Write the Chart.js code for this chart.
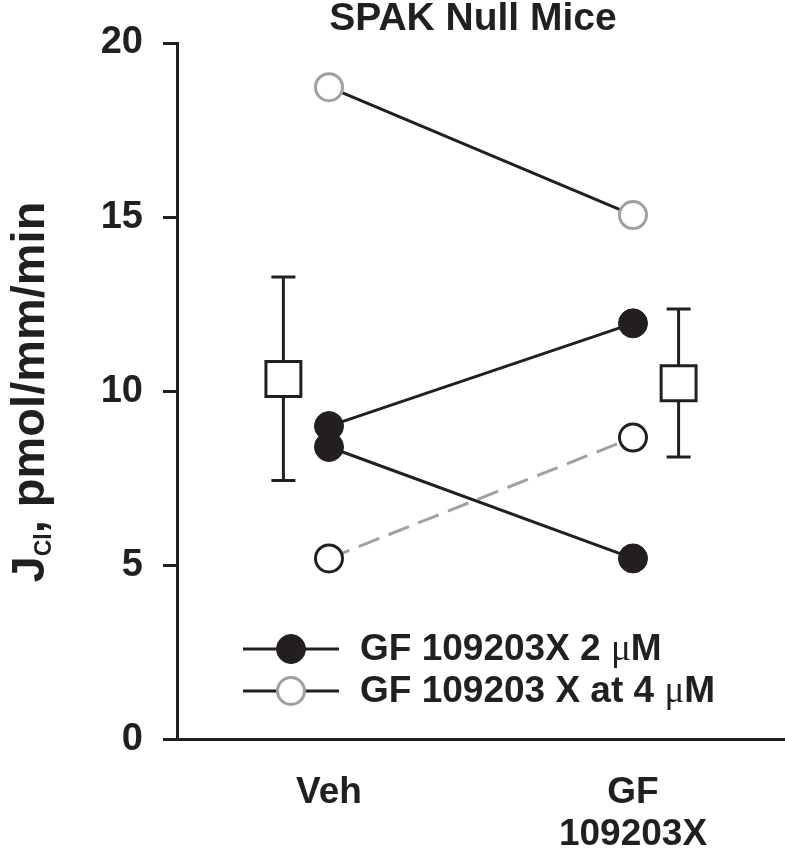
<!DOCTYPE html>
<html>
<head>
<meta charset="utf-8">
<title>SPAK Null Mice</title>
<script src="https://cdn.jsdelivr.net/npm/chart.js@4.4.1/dist/chart.umd.min.js"></script>
<style>
  html, body { margin: 0; padding: 0; background: #fff; }
  #wrap { width: 785px; height: 852px; }
</style>
</head>
<body>
<div id="wrap"><canvas id="chart" width="785" height="852"></canvas></div>
<script>
// data
const groups = ['Veh', 'GF 109203X'];
const xLabels = [['Veh'], ['GF', '109203X']];
const yTicks = [0, 5, 10, 15, 20];

const mouseA = [9.0, 11.95];   // 2 uM, filled
const mouseB = [8.4, 5.2];     // 2 uM, filled
const mouseC = [18.73, 15.06]; // 4 uM, grey open
const mouseD = [5.2, 8.67];    // open, dashed

const meanVals = [10.35, 10.23];
const errHigh = [13.28, 12.36];
const errLow = [7.44, 8.11];

const legendLabels = ['GF 109203X 2 \u03bcM', 'GF 109203 X at 4 \u03bcM'];
const chartTitle = 'SPAK Null Mice';

const ink = '#231f20';
const grey = '#a0a0a0';
const fontFam = '"Liberation Sans", Arial, Helvetica, sans-serif';
const meanOffset = 0.15;

const toPts = (vals, shift = 0) => vals.map((v, i) => ({ x: i + 1 + shift, y: v }));

const filledStyle = {
    showLine: true,
    borderColor: ink,
    borderWidth: 3,
    pointRadius: 14.5,
    pointBorderWidth: 1,
    pointBackgroundColor: ink,
    pointBorderColor: ink
};

const datasets = [
    { label: legendLabels[0], data: toPts(mouseA), ...filledStyle },
    { label: legendLabels[0], data: toPts(mouseB), ...filledStyle },
    {
        label: legendLabels[1], data: toPts(mouseC),
        showLine: true, borderColor: ink, borderWidth: 3,
        pointRadius: 13.5, pointBorderWidth: 3,
        pointBackgroundColor: '#fff', pointBorderColor: grey
    },
    {
        label: 'open', data: toPts(mouseD),
        showLine: true, borderColor: grey, borderWidth: 3, borderDash: [22, 10],
        pointRadius: 13.5, pointBorderWidth: 3,
        pointBackgroundColor: '#fff', pointBorderColor: ink
    },
    {
        label: 'mean',
        data: meanVals.map((v, i) => ({ x: i + 1 + (i === 0 ? -meanOffset : meanOffset), y: v })),
        showLine: false, pointStyle: 'rect',
        pointRadius: 24.7, pointBorderWidth: 3,
        pointBackgroundColor: '#fff', pointBorderColor: ink
    }
];

// error bars for the mean markers
const errorBars = {
    id: 'errorBars',
    beforeDatasetsDraw(chart) {
        const { ctx, scales: { x, y } } = chart;
        const meanPts = chart.data.datasets[4].data;
        ctx.save();
        ctx.strokeStyle = ink;
        ctx.lineWidth = 3;
        meanPts.forEach((p, i) => {
            const px = x.getPixelForValue(p.x);
            const top = y.getPixelForValue(errHigh[i]);
            const bot = y.getPixelForValue(errLow[i]);
            ctx.beginPath();
            ctx.moveTo(px, top); ctx.lineTo(px, bot);
            ctx.moveTo(px - 12, top); ctx.lineTo(px + 12, top);
            ctx.moveTo(px - 12, bot); ctx.lineTo(px + 12, bot);
            ctx.stroke();
        });
        ctx.restore();
    }
};

// draws text, with the mu in a symbol-like serif
function drawMixed(ctx, text, x, y, size) {
    const parts = text.split('\u03bc');
    let cx = x;
    parts.forEach((part, i) => {
        ctx.font = `bold ${size}px ${fontFam}`;
        ctx.fillText(part, cx, y);
        cx += ctx.measureText(part).width;
        if (i < parts.length - 1) {
            ctx.font = `${size}px "Liberation Serif", "Times New Roman", serif`;
            ctx.fillText('\u03bc', cx, y);
            cx += ctx.measureText('\u03bc').width;
        }
    });
}

const decorations = {
    id: 'decorations',
    afterDraw(chart) {
        const { ctx } = chart;
        ctx.save();
        ctx.fillStyle = ink;

        // title
        ctx.font = `bold 39px ${fontFam}`;
        ctx.textAlign = 'center';
        ctx.textBaseline = 'alphabetic';
        ctx.fillText(chartTitle, 473, 30);

        // legend
        const legendSets = [0, 2];
        ctx.textAlign = 'left';
        ctx.textBaseline = 'middle';
        legendSets.forEach((di, row) => {
            const ds = chart.data.datasets[di];
            const ly = 649 + row * 42;
            ctx.strokeStyle = ink;
            ctx.lineWidth = 3;
            ctx.beginPath();
            ctx.moveTo(243, ly); ctx.lineTo(339, ly);
            ctx.stroke();
            ctx.beginPath();
            ctx.arc(291, ly, ds.pointRadius, 0, Math.PI * 2);
            ctx.fillStyle = ds.pointBackgroundColor;
            ctx.fill();
            ctx.lineWidth = ds.pointBorderWidth;
            ctx.strokeStyle = ds.pointBorderColor;
            ctx.stroke();
            ctx.fillStyle = ink;
            drawMixed(ctx, ds.label, 360, ly + 1, 37);
        });

        // y axis title with subscript
        const big = 47, small = 23;
        ctx.textAlign = 'left';
        ctx.textBaseline = 'alphabetic';
        ctx.font = `bold ${big}px ${fontFam}`;
        const wJ = ctx.measureText('J').width;
        const rest = ', pmol/mm/min';
        const wRest = ctx.measureText(rest).width;
        ctx.font = `bold ${small}px ${fontFam}`;
        const wSub = ctx.measureText('Cl').width;
        const total = wJ + wSub + wRest;
        ctx.translate(44, 392);
        ctx.rotate(-Math.PI / 2);
        let tx = -total / 2;
        ctx.font = `bold ${big}px ${fontFam}`;
        ctx.fillText('J', tx, 0);
        tx += wJ;
        ctx.font = `bold ${small}px ${fontFam}`;
        ctx.fillText('Cl', tx, 7);
        tx += wSub;
        ctx.font = `bold ${big}px ${fontFam}`;
        ctx.fillText(rest, tx, 0);
        ctx.restore();
    }
};

new Chart(document.getElementById('chart'), {
    type: 'scatter',
    data: { datasets },
    options: {
        responsive: false,
        animation: false,
        events: [],
        layout: { autoPadding: false, padding: { top: 43, right: 0, left: 0, bottom: 0 } },
        elements: { line: { tension: 0 } },
        plugins: {
            legend: { display: false },
            tooltip: { enabled: false },
            title: { display: false }
        },
        scales: {
            x: {
                type: 'linear',
                min: 0.5,
                max: 2.5,
                afterBuildTicks: s => { s.ticks = groups.map((g, i) => ({ value: i + 1 })); },
                afterFit: s => {
                    s.height = 112.5;
                    s.paddingLeft = 0;
                    s.paddingRight = 0;
                },
                grid: { display: false, drawTicks: false },
                border: { display: true, color: ink, width: 3 },
                ticks: {
                    callback: v => xLabels[Math.round(v) - 1],
                    autoSkip: false,
                    maxRotation: 0,
                    padding: 33,
                    color: ink,
                    font: { family: fontFam, size: 37, weight: 'bold', lineHeight: 1.12 }
                }
            },
            y: {
                min: 0,
                max: 20,
                afterBuildTicks: s => { s.ticks = yTicks.map(v => ({ value: v })); },
                afterFit: s => { s.width = 177; },
                grid: { drawOnChartArea: false, drawTicks: true, tickLength: 14, color: ink, lineWidth: 3 },
                border: { display: true, color: ink, width: 3 },
                ticks: {
                    padding: 20,
                    color: ink,
                    font: { family: fontFam, size: 38, weight: 'bold' }
                }
            }
        }
    },
    plugins: [errorBars, decorations]
});
</script>
</body>
</html>
